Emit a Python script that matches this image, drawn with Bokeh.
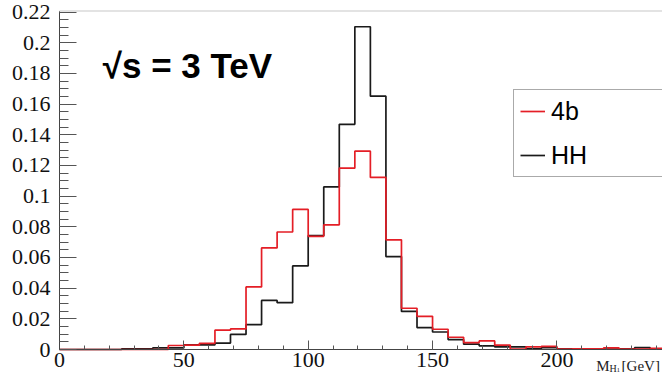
from bokeh.plotting import figure
from bokeh.models import (FixedTicker, Label, Legend, LegendItem, Range1d, BoxAnnotation)
from bokeh.embed import file_html
from bokeh.resources import INLINE
import numpy as np

# ---- data ----
bin_edges_range = (0.0, 250.0)
n_bins = 40

hh_values = [0, 0, 0, 0, 0.0005, 0.0005, 0.001, 0.001, 0.003, 0.003,
             0.0042, 0.0098, 0.0162, 0.032, 0.0305, 0.0545, 0.0742, 0.106, 0.1468, 0.2104,
             0.1651, 0.0606, 0.0248, 0.0143, 0.0114, 0.0065, 0.0035, 0.0024, 0.0017, 0.0017,
             0.0005, 0.0012, 0.0004, 0.0003, 0.0004, 0.0002, 0.0004, 0.0012, 0.0002, 0.0003]

b4_values = [0, 0, 0, 0, 0, 0, 0, 0.0026, 0.0028, 0.004,
             0.0126, 0.0134, 0.0408, 0.0662, 0.0766, 0.0913, 0.0738, 0.0813, 0.1182, 0.1293,
             0.1122, 0.0715, 0.0269, 0.0216, 0.0132, 0.008, 0.0045, 0.0056, 0.0028, 0.0003,
             0.0017, 0.002, 0.0002, 0.0005, 0.0005, 0.001, 0.0002, 0.0003, 0.0008, 0.0003]

series_labels = ["4b", "HH"]

x_ticks = [0, 50, 100, 150, 200]
x_tick_labels = ["0", "50", "100", "150", "200"]
y_ticks = [0, 0.02, 0.04, 0.06, 0.08, 0.1, 0.12, 0.14, 0.16, 0.18, 0.2, 0.22]
y_tick_labels = ["0", "0.02", "0.04", "0.06", "0.08", "0.1", "0.12", "0.14",
                 "0.16", "0.18", "0.2", "0.22"]

title_text = "√s = 3 TeV"

# ---- geometry (pixels inside the figure) ----
W, H = 662, 372
AXIS_X = 59             # pixel column of x = 0
ZERO = 349              # pixel row of y = 0
Y_TOPTICK = 11.5        # pixel row of the 0.22 tick
PX_PER_UNIT_Y = (ZERO - Y_TOPTICK) / 0.22
PX_PER_UNIT_X = 2.487
x_start = -AXIS_X / PX_PER_UNIT_X
x_end = (W - AXIS_X) / PX_PER_UNIT_X
y_end = ZERO / PX_PER_UNIT_Y
y_start = -(H - ZERO) / PX_PER_UNIT_Y
y_border = (ZERO - (Y_TOPTICK - 1)) / PX_PER_UNIT_Y

p = figure(width=W, height=H, output_backend="svg", toolbar_location=None,
           x_range=Range1d(x_start, x_end), y_range=Range1d(y_start, y_end),
           min_border_left=0, min_border_right=0, min_border_top=0,
           min_border_bottom=0)
p.background_fill_color = "white"
p.border_fill_color = "white"
p.outline_line_color = None
p.grid.visible = False

edges = np.linspace(bin_edges_range[0], bin_edges_range[1], n_bins + 1)

def step_y(vals):
    return list(vals) + [vals[-1]]

hh_r = p.step(x=edges, y=step_y(hh_values), mode="after",
              line_color="#1a1a1a", line_width=1.7)
b4_r = p.step(x=edges, y=step_y(b4_values), mode="after",
              line_color="#e41e26", line_width=1.7)

# plot frame (left/top/bottom visible, right side beyond the view)
p.add_layout(BoxAnnotation(left=0, right=bin_edges_range[1] + 20, bottom=0, top=y_border,
                           fill_color=None, fill_alpha=0, line_color="#444444",
                           line_width=1, level="underlay"))

# ---- axes ----
serif = "'Liberation Serif', 'Times New Roman', serif"
yax = p.yaxis[0]
yax.fixed_location = 0
yax.bounds = (0, y_border)
yax.ticker = FixedTicker(ticks=y_ticks,
                         minor_ticks=list(np.round(np.arange(0, 0.2225, 0.005), 4)))
yax.major_label_overrides = dict(zip(y_ticks, y_tick_labels))
yax.major_label_text_font = serif
yax.major_label_text_font_size = "22px"
yax.major_label_text_color = "#111111"
yax.major_label_standoff = 9
yax.major_tick_in = 17
yax.major_tick_out = 0
yax.minor_tick_in = 9
yax.minor_tick_out = 0
yax.axis_line_color = "#444444"
yax.major_tick_line_color = "#555555"
yax.minor_tick_line_color = "#555555"

xax = p.xaxis[0]
xax.fixed_location = 0
xax.bounds = (0, bin_edges_range[1])
xax.ticker = FixedTicker(ticks=x_ticks, minor_ticks=list(range(0, 250, 10)))
xax.major_label_overrides = dict(zip(x_ticks, x_tick_labels))
xax.major_label_text_font = serif
xax.major_label_text_font_size = "22px"
xax.major_label_text_color = "#111111"
xax.major_label_standoff = 3
xax.major_tick_in = 9
xax.major_tick_out = 0
xax.minor_tick_in = 4
xax.minor_tick_out = 0
xax.axis_line_color = "#444444"
xax.major_tick_line_color = "#555555"
xax.minor_tick_line_color = "#555555"

# axis title M_{H_1} [GeV] (at the right end, below the axis)
ty = -16 / PX_PER_UNIT_Y
p.add_layout(Label(x=215.8, y=ty, text="M", text_font=serif,
                   text_font_size="15px", text_baseline="alphabetic", text_color="#222222"))
p.add_layout(Label(x=221.2, y=ty - 2.5 / PX_PER_UNIT_Y, text="H", text_font=serif,
                   text_font_size="10px", text_baseline="alphabetic", text_color="#222222"))
p.add_layout(Label(x=224.0, y=ty - 4.0 / PX_PER_UNIT_Y, text="1", text_font=serif,
                   text_font_size="7px", text_baseline="alphabetic", text_color="#222222"))
p.add_layout(Label(x=226.0, y=ty, text="[GeV]", text_font=serif,
                   text_font_size="15px", text_baseline="alphabetic", text_color="#222222"))

# sqrt(s) annotation
p.add_layout(Label(x=17.4, y=(ZERO - 64.7) / PX_PER_UNIT_Y, text=title_text,
                   text_font="Liberation Sans", text_font_style="bold",
                   text_font_size="35px", text_baseline="alphabetic",
                   text_color="#000000"))

# ---- legend ----
legend = Legend(items=[LegendItem(label=series_labels[0], renderers=[b4_r]),
                       LegendItem(label=series_labels[1], renderers=[hh_r])],
                location=(AXIS_X + 454, H - 177), orientation="vertical")
legend.label_text_font = "Liberation Sans"
legend.label_text_font_size = "25px"
legend.label_text_color = "#000000"
legend.label_height = 30
legend.glyph_height = 30
legend.glyph_width = 25
legend.label_width = 120
legend.label_standoff = 6
legend.spacing = 14
legend.padding = 6
legend.margin = 0
legend.border_line_color = "#555555"
legend.border_line_width = 1
legend.background_fill_color = "white"
legend.background_fill_alpha = 1.0
p.add_layout(legend)

open("out.html", "w").write(file_html(p, INLINE))
